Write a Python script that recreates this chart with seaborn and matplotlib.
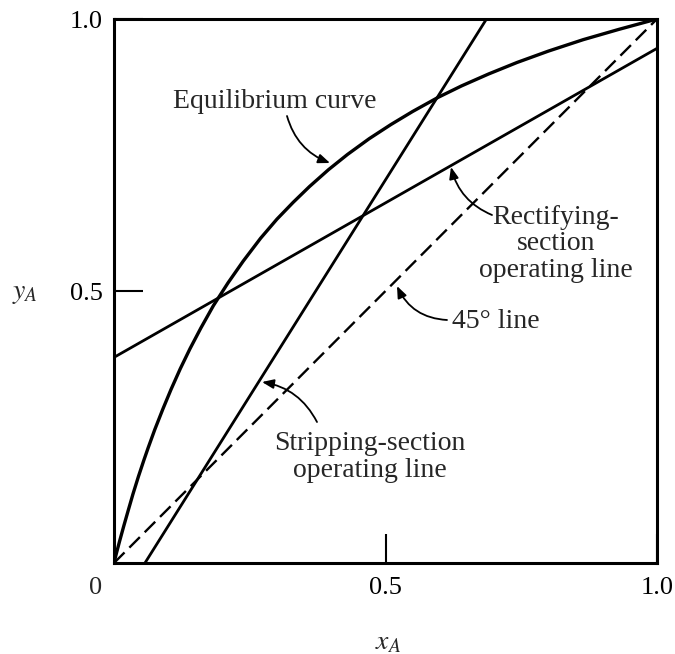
import matplotlib
matplotlib.use("Agg")
import matplotlib.pyplot as plt
import seaborn as sns

# ---------------- data ----------------
eq_x = [0.0, 0.005, 0.01, 0.018, 0.026, 0.035, 0.045, 0.055, 0.063, 0.075,
        0.09, 0.105, 0.122, 0.14, 0.16, 0.183, 0.21, 0.238, 0.27, 0.30,
        0.33, 0.36, 0.395, 0.43, 0.47, 0.51, 0.55, 0.597, 0.64, 0.69,
        0.742, 0.80, 0.864, 0.93, 1.0]
eq_y = [0.0, 0.020, 0.039, 0.068, 0.096, 0.127, 0.159, 0.189, 0.212, 0.245,
        0.283, 0.319, 0.357, 0.394, 0.432, 0.473, 0.515, 0.555, 0.597, 0.632,
        0.663, 0.692, 0.723, 0.751, 0.780, 0.806, 0.830, 0.856, 0.877, 0.899,
        0.920, 0.941, 0.962, 0.981, 1.0]

rect_x = [0.0, 1.0]
rect_y = [0.378, 0.946]

strip_x = [0.057, 0.686]
strip_y = [0.0, 1.0]

diag_x = [0.0, 1.0]
diag_y = [0.0, 1.0]

x_ticks = [0.5, 1.0]
x_tick_labels = ["0.5", "1.0"]
y_ticks = [0.5, 1.0]
y_tick_labels = ["0.5", "1.0"]
origin_label = "0"

label_eq = "Equilibrium curve"
label_rect = "Rectifying-\nsection\noperating line"
label_diag = "45° line"
label_strip = "Stripping-section\noperating line"

# ---------------- style ----------------
sns.set_style("ticks")
plt.rcParams["font.family"] = ["Liberation Serif", "DejaVu Serif"]
plt.rcParams["mathtext.fontset"] = "stix"

W, H = 675, 654
L, R, T, B = 114, 657, 19, 563
fig = plt.figure(figsize=(W / 100, H / 100), dpi=100)
ax = fig.add_axes([L / W, (H - B) / H, (R - L) / W, (B - T) / H])


def px(x, y):
    """pixel position in the image -> data coordinates"""
    return ((x - L) / (R - L), (B - y) / (B - T))


sns.lineplot(x=eq_x, y=eq_y, ax=ax, color="black", linewidth=2.4,
             sort=False, estimator=None)
sns.lineplot(x=rect_x, y=rect_y, ax=ax, color="black", linewidth=2.0,
             sort=False, estimator=None)
sns.lineplot(x=strip_x, y=strip_y, ax=ax, color="black", linewidth=2.0,
             sort=False, estimator=None)
sns.lineplot(x=diag_x, y=diag_y, ax=ax, color="black", linewidth=1.7,
             linestyle=(0, (6.3, 2.9)), sort=False, estimator=None)

ax.set_xlim(0, 1)
ax.set_ylim(0, 1)
ax.set_xticks(x_ticks)
ax.set_xticklabels(x_tick_labels)
ax.set_yticks(y_ticks)
ax.set_yticklabels(y_tick_labels)
ax.tick_params(axis="both", direction="in", length=21, width=1.5,
               labelsize=19, colors="black")
ax.tick_params(axis="x", pad=10)
ax.tick_params(axis="y", pad=8)
for s in ax.spines.values():
    s.set_visible(True)
    s.set_linewidth(2.2)
    s.set_color("black")

ax.text(*px(96, 577), origin_label, fontsize=19, ha="center", va="top")
ax.set_xlabel("")
ax.set_ylabel("")
fig.text(388 / W, 1 - 643 / H, r"$x_A$", fontsize=20, ha="center", va="center")
fig.text(25 / W, 1 - 293 / H, r"$y_A$", fontsize=20, ha="center", va="center")

fs = 20
ax.text(*px(275, 108), label_eq, fontsize=fs, ha="center", va="baseline")
# for multi-line text the baseline anchor is the last line's baseline
ax.text(*px(556, 277), label_rect, fontsize=fs, ha="center", va="baseline",
        linespacing=1.08, multialignment="center")
ax.text(*px(452, 328), label_diag, fontsize=fs, ha="left", va="baseline")
ax.text(*px(370, 477), label_strip, fontsize=fs, ha="center", va="baseline",
        linespacing=1.08, multialignment="center")

arrow_style = "-|>,head_length=0.5,head_width=0.2"


def arrow(tail, head, rad):
    ax.annotate("", xy=px(*head), xytext=px(*tail),
                arrowprops=dict(arrowstyle=arrow_style, color="black", lw=1.3,
                                connectionstyle=f"arc3,rad={rad}",
                                mutation_scale=14, shrinkA=0, shrinkB=0))


arrow((287, 116), (330, 163), 0.25)
arrow((492, 215), (451, 167), -0.25)
arrow((447, 320), (397, 286), -0.3)
arrow((317, 422), (262, 382), 0.25)

fig.savefig("out.png", dpi=100)
